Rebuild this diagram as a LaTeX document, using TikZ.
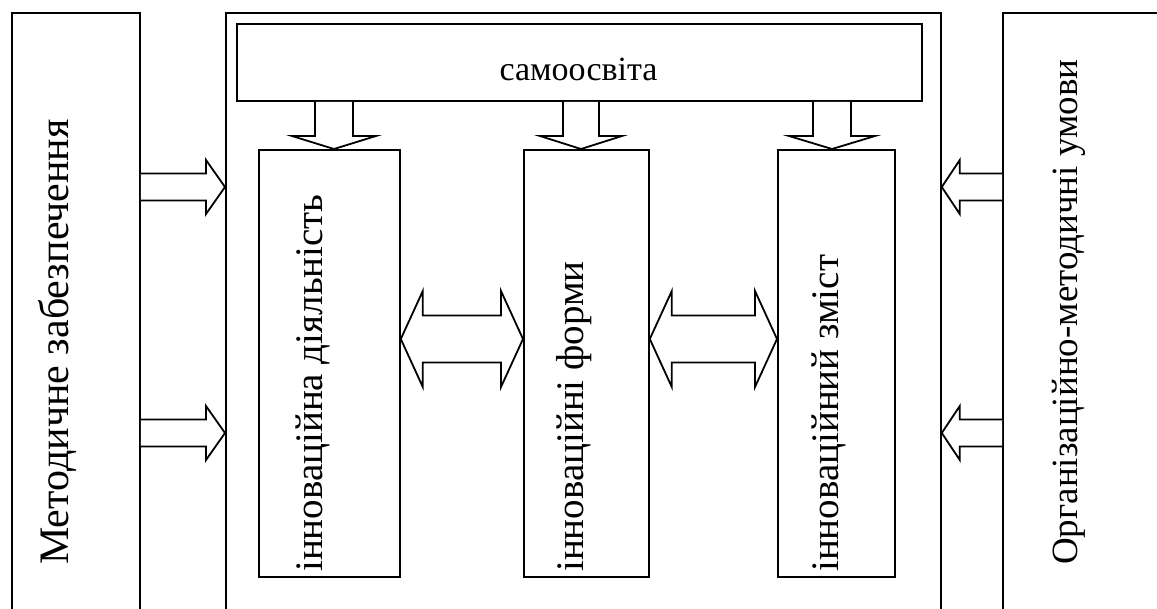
\documentclass[tikz,border=0pt]{standalone}
\usepackage{fontspec}
\setmainfont{Liberation Serif}
\usetikzlibrary{calc}
\tikzset{
  box/.style={draw, line width=1.8pt, inner sep=0pt},
  vtext/.style={rotate=90, anchor=base west, inner sep=0pt},
  htext/.style={inner sep=0pt, font=\fontsize{34}{40}\selectfont},
  barrow/.style={draw, line width=1.8pt, fill=white, line join=miter},
}
% horizontal block arrow between two points at the same height
% #1 start, #2 end, #3 shaft half width, #4 head half width, #5 head length
\newcommand\hblock[5]{%
  \path[barrow] let \p1=(#1), \p2=(#2), \n1={sign(\x2-\x1)} in
    (\x1,\y1+#3) -- (\x2-\n1*#5,\y1+#3) -- (\x2-\n1*#5,\y1+#4) -- (\x2,\y1)
    -- (\x2-\n1*#5,\y1-#4) -- (\x2-\n1*#5,\y1-#3) -- (\x1,\y1-#3);}
% horizontal double block arrow
\newcommand\hdouble[5]{%
  \path[barrow] let \p1=(#1), \p2=(#2) in
    (\x1,\y1) -- (\x1+#5,\y1+#4) -- (\x1+#5,\y1+#3) -- (\x2-#5,\y1+#3)
    -- (\x2-#5,\y1+#4) -- (\x2,\y1) -- (\x2-#5,\y1-#4) -- (\x2-#5,\y1-#3)
    -- (\x1+#5,\y1-#3) -- (\x1+#5,\y1-#4) -- cycle;}
% vertical downward block arrow
\newcommand\vblock[5]{%
  \path[barrow] let \p1=(#1), \p2=(#2) in
    (\x1-#3,\y1) -- (\x1-#3,\y2+#5) -- (\x1-#4,\y2+#5) -- (\x1,\y2)
    -- (\x1+#4,\y2+#5) -- (\x1+#3,\y2+#5) -- (\x1+#3,\y1);}
\begin{document}
\begin{tikzpicture}[x=1pt,y=-1pt]
\useasboundingbox (0,0) rectangle (1157,608);
% outer boxes
\node[box, minimum width=128pt, minimum height=700pt, anchor=north west] (L) at (11,12) {};
\node[box, minimum width=715pt, minimum height=700pt, anchor=north west] (C) at (225,12) {};
\node[box, minimum width=300pt, minimum height=700pt, anchor=north west] (R) at (1002,12) {};
% self-education
\node[box, minimum width=685pt, minimum height=77pt, anchor=north west] (S) at (236,23) {};
\node[htext, anchor=base] (St) at (578.5,80) {самоосвіта};
% inner boxes
\node[box, minimum width=141pt, minimum height=427pt, anchor=north west] (A) at (258,149) {};
\node[box, minimum width=125pt, minimum height=427pt, anchor=north west] (B) at (523,149) {};
\node[box, minimum width=117pt, minimum height=427pt, anchor=north west] (D) at (777,149) {};
% texts
\node[vtext, font=\fontsize{42}{48}\selectfont] (Lt) at (68,565) {Методичне забезпечення};
\node[vtext, font=\fontsize{37}{44}\selectfont] (Rt) at (1077,565) {Організаційно-методичні умови};
\node[vtext, font=\fontsize{39}{46}\selectfont] (At) at (322,572) {інноваційна діяльність};
\node[vtext, font=\fontsize{39}{46}\selectfont] (Bt) at (583,572) {інноваційні форми};
\node[vtext, font=\fontsize{39}{46}\selectfont] (Dt) at (838,572) {інноваційний зміст};
% arrow anchor coordinates
\coordinate (l1) at (L.east |- 0,187);
\coordinate (l2) at (L.east |- 0,433);
\coordinate (r1) at (R.west |- 0,187);
\coordinate (r2) at (R.west |- 0,433);
\coordinate (c1) at (C.west |- 0,187);
\coordinate (c2) at (C.west |- 0,433);
\coordinate (c3) at (C.east |- 0,187);
\coordinate (c4) at (C.east |- 0,433);
\hblock{l1}{c1}{13.5pt}{27pt}{19pt}
\hblock{l2}{c2}{13.5pt}{27pt}{19pt}
\hblock{r1}{c3}{13.5pt}{27pt}{18pt}
\hblock{r2}{c4}{13.5pt}{27pt}{18pt}
% down arrows
\coordinate (s1) at (S.south -| 334,0);
\coordinate (s2) at (S.south -| 581,0);
\coordinate (s3) at (S.south -| 832,0);
\coordinate (a1) at (A.north -| 334,0);
\coordinate (a2) at (B.north -| 581,0);
\coordinate (a3) at (D.north -| 832,0);
\vblock{s1}{a1}{19pt}{42pt}{13pt}
\vblock{s2}{a2}{18pt}{41pt}{13pt}
\vblock{s3}{a3}{19pt}{43pt}{13pt}
% double arrows
\coordinate (d1) at (A.east |- 0,339);
\coordinate (d2) at (B.west |- 0,339);
\coordinate (d3) at (B.east |- 0,339);
\coordinate (d4) at (D.west |- 0,339);
\hdouble{d1}{d2}{23.5pt}{48pt}{22pt}
\hdouble{d3}{d4}{23.5pt}{48pt}{22pt}
\end{tikzpicture}
\end{document}
